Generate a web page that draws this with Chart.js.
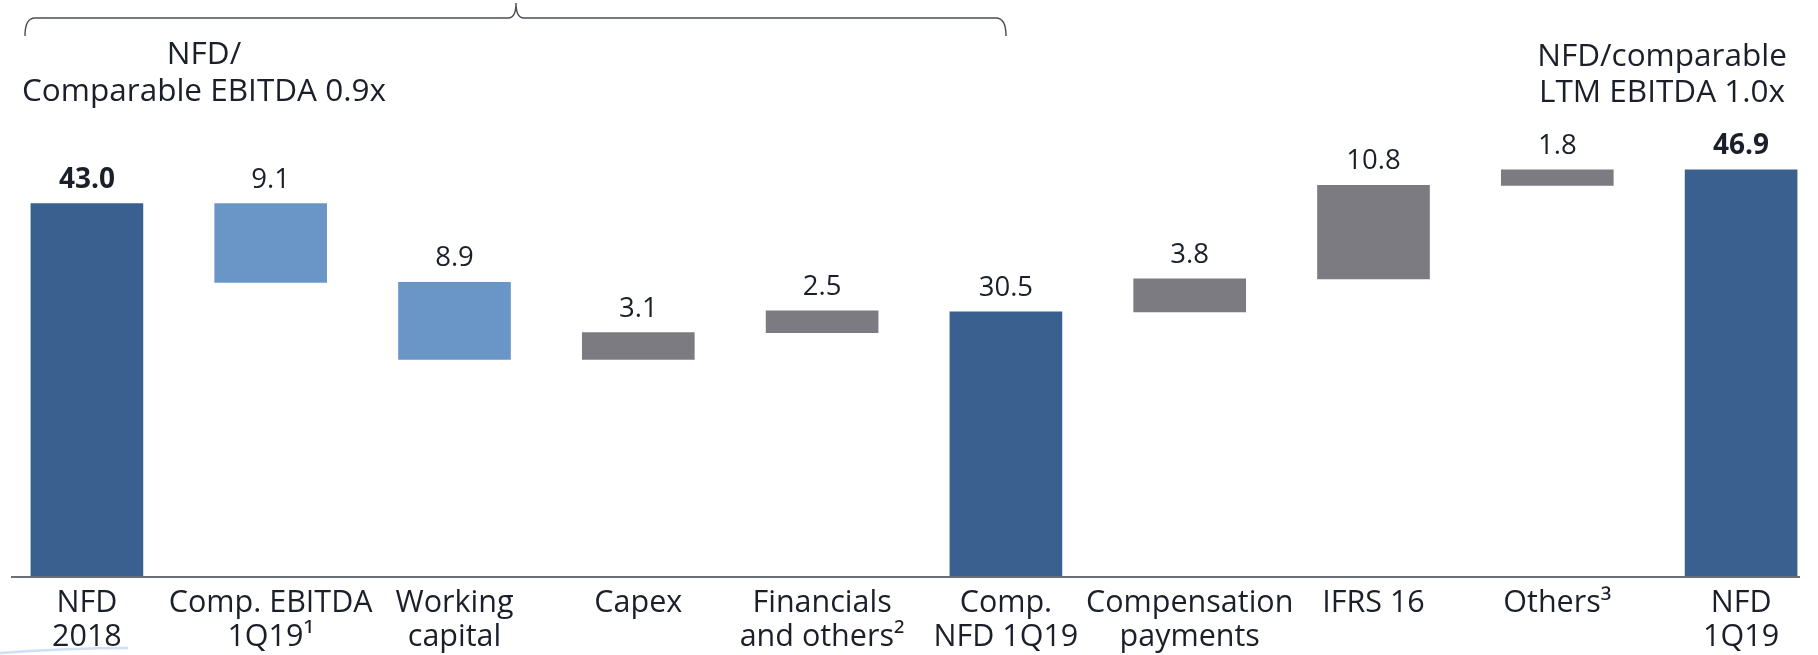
<!DOCTYPE html>
<html>
<head>
<meta charset="utf-8">
<script src="https://cdn.jsdelivr.net/npm/chart.js@4.4.1/dist/chart.umd.min.js"></script>
<style>
  html, body { margin: 0; padding: 0; background: #ffffff; overflow: hidden; width: 1818px; height: 655px; }
  #wrap { position: absolute; left: -5px; top: 0; width: 1838px; height: 655px; }
  canvas { display: block; }
</style>
</head>
<body>
<div id="wrap"><canvas id="bridge" width="1838" height="655"></canvas></div>
<script>
// Net financial debt bridge (EUR bn)
const categories = [
  ['NFD', '2018'],
  ['Comp. EBITDA', '1Q19\u00B9'],
  ['Working', 'capital'],
  ['Capex'],
  ['Financials', 'and others\u00B2'],
  ['Comp.', 'NFD 1Q19'],
  ['Compensation', 'payments'],
  ['IFRS 16'],
  ['Others\u00B3'],
  ['NFD', '1Q19']
];
// 'total' bars start at zero, the others move the running balance
const stepKinds  = ['total', 'decrease', 'decrease', 'increase', 'increase', 'total', 'increase', 'increase', 'increase', 'total'];
const stepValues = [43.0, 9.1, 8.9, 3.1, 2.5, 30.5, 3.8, 10.8, 1.8, 46.9];

const leftNote  = ['NFD/', 'Comparable EBITDA 0.9x'];
const rightNote = ['NFD/comparable', 'LTM EBITDA 1.0x'];

// floating [from, to] ranges for each step
let running = 0;
const ranges = stepValues.map((v, i) => {
  const k = stepKinds[i];
  if (k === 'total') { running = v; return [0, v]; }
  if (k === 'decrease') { const r = [running - v, running]; running -= v; return r; }
  const r = [running, running + v]; running += v; return r;
});

const kindColor = { total: '#39608F', decrease: '#6A96C7', increase: '#7C7B81' };
const TEXT = '#1B1F2A';
const FONT = '"Open Sans", "DejaVu Sans", sans-serif';
const SHIFT = 5; // canvas sits 5px left of the page edge

const decor = {
  id: 'decor',
  afterDatasetsDraw(chart) {
    const ctx = chart.ctx;
    const meta = chart.getDatasetMeta(0);
    ctx.save();
    ctx.fillStyle = TEXT;
    ctx.textAlign = 'center';
    ctx.textBaseline = 'alphabetic';
    meta.data.forEach((bar, i) => {
      const top = Math.min(bar.y, bar.base);
      const bold = (i === 0 || i === meta.data.length - 1);
      ctx.font = (bold ? '700 28px ' : '400 27.5px ') + FONT;
      ctx.fillText(stepValues[i].toFixed(1), bar.x, top - 16);
    });

    // base line
    const y0 = chart.scales.y.getPixelForValue(0);
    ctx.strokeStyle = '#3A3F49';
    ctx.lineWidth = 1.5;
    ctx.beginPath();
    ctx.moveTo(11 + SHIFT, y0 + 1);
    ctx.lineTo(1800 + SHIFT, y0 + 1);
    ctx.stroke();

    // brace over the first six steps
    ctx.strokeStyle = '#4A4D55';
    ctx.lineWidth = 1.4;
    ctx.beginPath();
    const bl = 25 + SHIFT, bm = 516 + SHIFT, br = 1006 + SHIFT, by = 18;
    ctx.moveTo(bl, 36);
    ctx.quadraticCurveTo(bl, by, bl + 10, by);
    ctx.lineTo(bm - 8, by);
    ctx.quadraticCurveTo(bm, by, bm, 3);
    ctx.quadraticCurveTo(bm, by, bm + 8, by);
    ctx.lineTo(br - 10, by);
    ctx.quadraticCurveTo(br, by, br, 36);
    ctx.stroke();

    // notes
    ctx.fillStyle = TEXT;
    ctx.font = '400 31.5px ' + FONT;
    ctx.fillText(leftNote[0], 204 + SHIFT, 64);
    ctx.fillText(leftNote[1], 204 + SHIFT, 101);
    ctx.fillText(rightNote[0], 1662 + SHIFT, 66);
    ctx.fillText(rightNote[1], 1662 + SHIFT, 102);

    // faint slide swoosh, bottom left
    ctx.strokeStyle = 'rgba(150,185,225,0.45)';
    ctx.lineWidth = 2.5;
    ctx.beginPath();
    ctx.moveTo(0 + SHIFT, 653);
    ctx.quadraticCurveTo(70 + SHIFT, 648, 128 + SHIFT, 648);
    ctx.stroke();
    ctx.restore();
  }
};

new Chart(document.getElementById('bridge'), {
  type: 'bar',
  data: {
    labels: categories,
    datasets: [{
      data: ranges,
      backgroundColor: stepKinds.map(k => kindColor[k]),
      borderWidth: 0,
      borderSkipped: false,
      barThickness: 112
    }]
  },
  options: {
    responsive: false,
    devicePixelRatio: 1,
    animation: false,
    layout: { padding: 0 },
    plugins: { legend: { display: false }, tooltip: { enabled: false } },
    scales: {
      x: {
        offset: true,
        grid: { display: false, drawTicks: false },
        border: { display: false },
        ticks: {
          color: TEXT,
          padding: 11,
          maxRotation: 0,
          autoSkip: false,
          font: { family: FONT, size: 30.5, lineHeight: 1.09 }
        },
        afterFit(axis) { axis.height = 79; }
      },
      y: {
        display: false,
        min: 0,
        max: 66.5
      }
    }
  },
  plugins: [decor]
});
</script>
</body>
</html>
